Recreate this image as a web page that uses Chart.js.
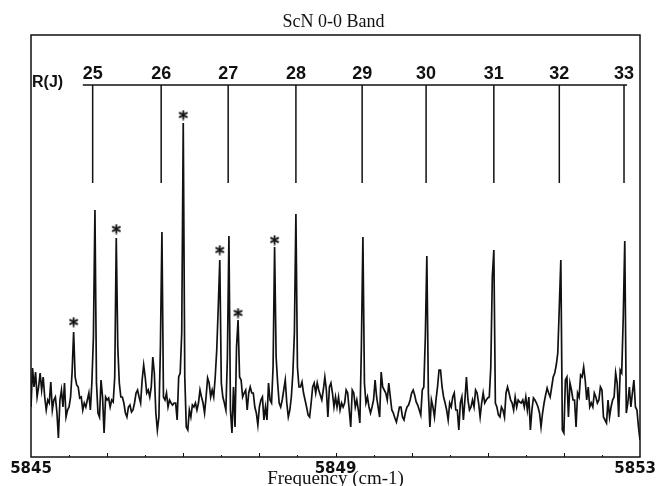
<!DOCTYPE html>
<html>
<head>
<meta charset="utf-8">
<title>ScN 0-0 Band</title>
<script src="https://cdn.jsdelivr.net/npm/chart.js@4.4.1/dist/chart.umd.min.js"></script>
<style>
  html, body { margin: 0; padding: 0; background: #fff; }
  canvas { display: block; }
</style>
</head>
<body>
<canvas id="band" width="658" height="486"></canvas>
<script>
// spectrum, one reading every 0.02 cm-1 from 5845 (intensity in arbitrary units)
const freqStart = 5845;
const freqStep = 0.02;
const intensity = [
  50, 89, 70, 85, 60, 70, 84, 67, 80, 60,
  47, 57, 54, 75, 47, 57, 60, 45, 19, 57,
  67, 50, 74, 40, 47, 50, 60, 85, 125, 80,
  72, 70, 59, 60, 47, 54, 50, 57, 64, 47,
  75, 120, 247, 74, 44, 40, 77, 60, 24, 60,
  57, 59, 50, 57, 55, 80, 219, 110, 74, 60,
  60, 54, 44, 40, 50, 52, 45, 47, 54, 64,
  67, 60, 54, 77, 92, 80, 64, 67, 60, 70,
  100, 84, 44, 27, 40, 110, 225, 60, 57, 64,
  50, 57, 54, 52, 54, 54, 37, 80, 84, 124,
  334, 80, 30, 27, 47, 40, 52, 50, 54, 47,
  54, 67, 60, 54, 44, 60, 79, 74, 60, 67,
  60, 80, 107, 150, 197, 74, 60, 54, 47, 100,
  221, 47, 24, 70, 30, 110, 137, 80, 77, 60,
  64, 67, 47, 64, 70, 64, 64, 50, 44, 32,
  50, 57, 60, 37, 50, 37, 74, 57, 54, 90,
  210, 100, 74, 54, 50, 57, 67, 77, 54, 40,
  47, 60, 84, 124, 243, 90, 70, 70, 75, 64,
  57, 50, 42, 40, 54, 70, 74, 64, 74, 67,
  62, 57, 67, 80, 67, 40, 70, 74, 64, 50,
  60, 50, 60, 47, 54, 50, 54, 67, 64, 47,
  30, 67, 64, 50, 57, 47, 34, 110, 220, 74,
  54, 60, 50, 44, 50, 57, 77, 60, 50, 40,
  85, 70, 67, 64, 57, 74, 60, 47, 44, 39,
  35, 42, 50, 50, 40, 37, 45, 50, 52, 57,
  64, 67, 62, 55, 52, 47, 42, 67, 70, 120,
  201, 64, 30, 57, 50, 40, 57, 70, 87, 87,
  70, 60, 54, 47, 37, 54, 50, 60, 64, 47,
  47, 27, 54, 60, 37, 57, 80, 57, 47, 50,
  57, 50, 67, 64, 54, 40, 54, 64, 54, 57,
  59, 60, 90, 180, 207, 54, 50, 42, 40, 50,
  47, 40, 64, 70, 64, 57, 54, 47, 60, 50,
  57, 55, 54, 57, 50, 60, 47, 60, 27, 47,
  59, 57, 54, 50, 44, 30, 44, 54, 62, 69,
  64, 60, 70, 80, 84, 92, 104, 150, 197, 27,
  24, 77, 80, 40, 74, 67, 57, 57, 30, 64,
  60, 82, 80, 90, 77, 57, 70, 50, 54, 50,
  64, 60, 54, 57, 70, 67, 40, 37, 34, 57,
  40, 50, 57, 60, 84, 74, 40, 87, 84, 140,
  216, 44, 54, 70, 50, 64, 77, 50, 47, 30,
  17
];

// R(J) assignment comb
const rjLabels = ['25', '26', '27', '28', '29', '30', '31', '32', '33'];
const rjFreqs = [5845.81, 5846.71, 5847.59, 5848.48, 5849.35, 5850.19, 5851.08, 5851.94, 5852.79];
const rjBarFrom = 5845.68;
const rjBarTo = 5852.83;
const rjTop = 372;
const rjBottom = 274;

// lines marked with an asterisk
const starFreqs = [5845.56, 5846.12, 5847.00, 5847.48, 5847.72, 5848.20];
const starLevels = [135, 228, 342, 207, 144, 217];

// x axis
const xMin = 5845;
const xMax = 5853;
const tickValues = [5845, 5849, 5853];
const tickLabels = ['5845', '5849', '5853'];
const minorTicks = [5845.5, 5846, 5846.5, 5847, 5847.5, 5848, 5848.5, 5849,
  5849.5, 5850, 5850.5, 5851, 5851.5, 5852, 5852.5];

const titleText = 'ScN 0-0 Band';
const xTitle = 'Frequency (cm-1)';

const spectrum = intensity.map((v, i) => ({ x: freqStart + i * freqStep, y: v }));

const rjBar = [{ x: rjBarFrom, y: rjTop }, { x: rjBarTo, y: rjTop }];
const rjDrops = [];
rjFreqs.forEach((f) => {
  rjDrops.push({ x: f, y: rjTop }, { x: f, y: rjBottom }, { x: f, y: null });
});

const stars = starFreqs.map((f, i) => ({ x: f, y: starLevels[i] }));

// six-armed asterisk used as point style
const asterisk = document.createElement('canvas');
asterisk.width = 11;
asterisk.height = 11;
(() => {
  const c = asterisk.getContext('2d');
  c.strokeStyle = '#111';
  c.lineWidth = 1.8;
  c.lineCap = 'round';
  c.beginPath();
  for (let k = 0; k < 3; k++) {
    const ang = Math.PI / 2 + (k * Math.PI) / 3;
    const dx = Math.cos(ang) * 4.2;
    const dy = Math.sin(ang) * 4.2;
    c.moveTo(5.5 - dx, 5.5 - dy);
    c.lineTo(5.5 + dx, 5.5 + dy);
  }
  c.stroke();
})();

const decorations = {
  id: 'decorations',
  afterDraw(chart) {
    const { ctx, chartArea: a, scales } = chart;
    const x = scales.x;
    const y = scales.y;
    ctx.save();

    // frame
    ctx.strokeStyle = '#111';
    ctx.lineWidth = 1.5;
    ctx.strokeRect(a.left, a.top, a.right - a.left, a.bottom - a.top);

    // small ticks standing on the bottom axis
    ctx.lineWidth = 1;
    ctx.beginPath();
    minorTicks.forEach((v) => {
      const px = Math.round(x.getPixelForValue(v)) + 0.5;
      const len = Number.isInteger(v) ? 4 : 2;
      ctx.moveTo(px, a.bottom);
      ctx.lineTo(px, a.bottom - len);
    });
    ctx.stroke();

    ctx.fillStyle = '#111';

    // tick labels
    ctx.font = 'bold 15px "DejaVu Sans"';
    ctx.textBaseline = 'alphabetic';
    ctx.textAlign = 'center';
    tickValues.forEach((v, i) => {
      let px = x.getPixelForValue(v);
      const w = ctx.measureText(tickLabels[i]).width;
      px = Math.min(Math.max(px, w / 2 + 2), chart.width - w / 2 - 2);
      ctx.fillText(tickLabels[i], px, a.bottom + 16);
    });

    // axis title
    ctx.font = '19px "Liberation Serif"';
    ctx.fillText(xTitle, (a.left + a.right) / 2, a.bottom + 27);

    // chart title
    ctx.font = '18px "Liberation Serif"';
    ctx.fillText(titleText, (a.left + a.right) / 2 - 2, 27);

    // R(J) comb labels
    const barY = y.getPixelForValue(rjTop);
    ctx.font = 'bold 18px "Liberation Sans"';
    rjLabels.forEach((t, i) => {
      ctx.fillText(t, x.getPixelForValue(rjFreqs[i]), barY - 6);
    });
    ctx.font = 'bold 16px "Liberation Sans"';
    ctx.textAlign = 'left';
    ctx.fillText('R(J)', a.left + 1, barY + 2);

    ctx.restore();
  }
};

new Chart(document.getElementById('band'), {
  type: 'line',
  data: {
    datasets: [
      {
        label: 'ScN',
        data: spectrum,
        borderColor: '#111',
        borderWidth: 1.7,
        pointRadius: 0,
        tension: 0,
      },
      {
        label: 'R(J) bar',
        data: rjBar,
        borderColor: '#111',
        borderWidth: 1.5,
        pointRadius: 0,
      },
      {
        label: 'R(J) lines',
        data: rjDrops,
        borderColor: '#111',
        borderWidth: 1.5,
        pointRadius: 0,
        spanGaps: false,
      },
      {
        label: 'marked',
        data: stars,
        showLine: false,
        pointStyle: asterisk,
        pointRadius: 5,
      },
    ],
  },
  options: {
    responsive: false,
    animation: false,
    devicePixelRatio: 1,
    layout: { padding: { left: 31, right: 18, top: 35, bottom: 29 } },
    plugins: {
      legend: { display: false },
      tooltip: { enabled: false },
      title: { display: false },
    },
    scales: {
      x: { type: 'linear', min: xMin, max: xMax, display: false },
      y: { type: 'linear', min: 0, max: 422, display: false },
    },
  },
  plugins: [decorations],
});
</script>
</body>
</html>
